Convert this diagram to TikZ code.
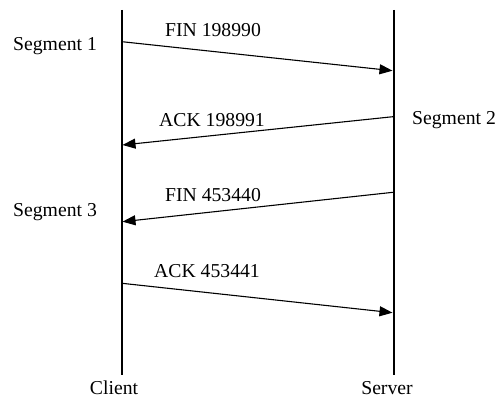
\documentclass[tikz,border=0pt]{standalone}
\usepackage{fontspec}
\setmainfont{Liberation Serif}
\usetikzlibrary{arrows.meta}
\tikzset{
  lifeline/.style={line width=2pt},
  msg/.style={line width=1.1pt,-{Triangle[length=13pt,width=10pt]}},
  lbl/.style={anchor=base,inner sep=0pt}
}

\begin{document}
\begin{tikzpicture}[x=1pt,y=-1pt,font=\fontsize{19.7}{23}\selectfont]
\useasboundingbox (0,0) rectangle (503,398);
% lifelines
\coordinate (cTop) at (121.5,10);
\coordinate (cBot) at (121.5,375);
\coordinate (sTop) at (393.5,10);
\coordinate (sBot) at (393.5,375);
\draw[lifeline] (cTop) -- (cBot);
\draw[lifeline] (sTop) -- (sBot);
\node[lbl,text depth=0pt] (client) at (114,394) {Client};
\node[lbl,text depth=0pt] (server) at (387,394) {Server};
% message end points
\coordinate (m1a) at (122,41.7);
\coordinate (m1b) at (392.5,70.7);
\coordinate (m2a) at (393,116.7);
\coordinate (m2b) at (122.5,145);
\coordinate (m3a) at (393,192.3);
\coordinate (m3b) at (122.5,221.7);
\coordinate (m4a) at (122,283.3);
\coordinate (m4b) at (392.5,312.7);
\draw[msg] (m1a) -- (m1b);
\draw[msg] (m2a) -- (m2b);
\draw[msg] (m3a) -- (m3b);
\draw[msg] (m4a) -- (m4b);
% labels
\node[lbl] (fin1) at (213,37) {FIN 198990};
\node[lbl] (ack1) at (212,127) {ACK 198991};
\node[lbl] (fin2) at (213,202) {FIN 453440};
\node[lbl] (ack2) at (207,277) {ACK 453441};
\node[lbl] (seg1) at (55,51) {Segment 1};
\node[lbl] (seg2) at (454,125) {Segment 2};
\node[lbl] (seg3) at (55,216) {Segment 3};
\end{tikzpicture}
\end{document}
